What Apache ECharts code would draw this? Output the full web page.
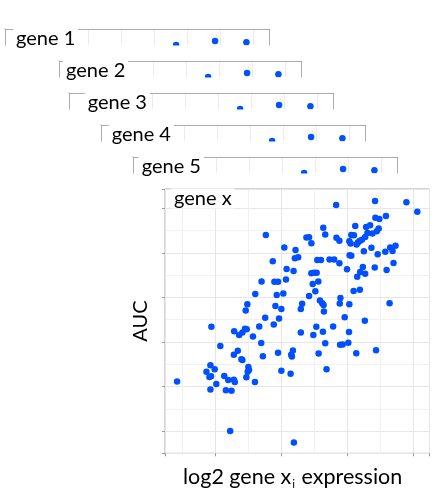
<!DOCTYPE html>
<html>
<head>
<meta charset="utf-8">
<script src="https://cdn.jsdelivr.net/npm/echarts@6/dist/echarts.min.js"></script>
<style>
html,body{margin:0;padding:0;background:#ffffff;}
#chart{width:436px;height:498px;}
</style>
</head>
<body>
<div id="chart"></div>
<script>
// ---- data ----
const geneNames = ['gene 1', 'gene 2', 'gene 3', 'gene 4', 'gene 5', 'gene x'];
const yAxisTitle = 'AUC';
const xAxisTitleParts = ['log2 gene x', 'i', ' expression'];

// log2 expression of gene x_i (arbitrary axis units)
const exprX = [
  68.3,77.8,56.5,81.1,71.6,68.4,69.6,35.2,52.6,53.2,
  62.3,65.6,66.8,69.4,68.8,67.5,66.0,65.3,64.3,63.1,
  62.7,61.1,61.9,60.5,60.9,63.6,56.6,57.5,47.5,48.3,
  49.0,40.8,44.2,37.3,44.0,45.0,41.5,43.6,33.9,37.8,
  38.9,41.3,32.0,38.5,40.5,29.6,29.1,38.1,39.9,35.0,
  39.2,64.9,67.2,69.1,71.4,72.9,73.6,74.5,60.6,61.1,
  50.8,51.9,54.5,55.9,57.5,59.8,64.6,63.8,65.3,62.9,
  68.2,71.8,73.9,49.0,49.8,50.6,51.1,49.4,50.2,48.3,
  61.8,63.7,57.8,51.6,52.3,52.7,57.6,60.5,46.2,45.8,
  52.8,59.1,65.2,72.7,
  18.7,25.6,27.1,28.1,28.9,29.4,33.2,31.3,37.6,33.8,
  21.4,26.7,25.5,27.8,28.1,34.3,38.9,43.4,42.9,43.1,
  45.8,49.6,50.5,52.5,53.2,55.6,60.4,57.7,58.5,60.2,
  51.2,62.6,68.6,53.6,18.4,17.2,19.7,18.1,18.6,22.6,
  23.8,25.5,25.8,20.2,18.4,23.1,24.8,29.9,30.1,29.7,
  29.3,31.9,39.9,42.7,8.3,24.4,43.7
];
// AUC (arbitrary axis units)
const aucY = [
  123.3,122.7,121.5,118.5,116.6,115.8,115.2,108.0,111.3,108.3,
  112.1,111.6,112.4,111.0,109.7,108.7,108.9,107.1,105.9,104.7,
  103.8,108.0,107.9,105.2,104.2,105.3,106.8,105.5,106.9,107.0,
  104.3,102.4,101.3,96.3,97.6,98.1,92.8,91.9,87.2,87.1,
  87.1,88.0,81.5,81.1,81.8,76.9,74.1,76.1,74.8,70.9,
  70.5,100.7,102.3,99.4,100.5,102.4,100.9,103.2,99.0,98.7,
  96.8,96.8,97.0,97.0,95.3,92.7,93.7,91.4,90.6,89.3,
  93.5,92.3,95.5,90.9,91.1,91.1,87.2,86.0,82.8,80.7,
  82.9,83.4,79.8,78.6,77.4,76.6,77.3,76.9,77.2,74.8,
  73.7,71.1,69.5,77.4,
  66.8,64.8,63.1,64.3,65.9,65.7,66.9,62.5,67.8,59.5,
  58.2,56.1,54.3,52.2,51.9,53.6,55.2,56.2,54.3,53.5,
  64.3,63.1,66.8,64.6,59.4,66.9,64.5,58.7,58.9,59.7,
  54.8,54.9,56.3,47.7,49.6,46.6,47.7,44.3,44.6,44.7,
  42.9,43.0,42.0,41.1,38.7,38.3,38.1,48.8,47.4,46.6,
  44.1,42.0,47.1,45.7,42.3,20.0,14.9
];

// axis extents (axis units)
const X_MIN = 4.64, X_MAX = 84.8;
const Y_MIN = 10, Y_MAX = 128.7;

// ---- layout / style ----
const FONT = 'Lato';
const DOT = '#0050ff';
const FRAME = '#ababab';
const GRID_MINOR = '#f1f1f1';
const GRID_MAJOR = '#e6e6e6';

const MAIN = { left: 165, top: 189, width: 264.5, height: 264.3 };
const PX_PER_X = MAIN.width / (X_MAX - X_MIN);
const PX_PER_Y = MAIN.height / (Y_MAX - Y_MIN);
const CARD_STEP = 32;
const CARD_FIRST = { left: 5, top: 29 };
const CARD_H = 16;
const CARD_CLIP_LEFT = [0, 22, 0, 0, 0];
const LABEL_LEFT = [16, 66, 87.7, 111.7, 141.7, 174];

const points = exprX.map((x, i) => [x, aucY[i]]);

const grids = [], xAxes = [], yAxes = [], series = [], titles = [], masks = [];

// main panel
grids.push({ left: MAIN.left, top: MAIN.top, width: MAIN.width, height: MAIN.height,
  show: true, borderColor: FRAME, borderWidth: 1, backgroundColor: '#fff', containLabel: false });
const hidden = { axisLabel: { show: false }, axisTick: { show: false } };
xAxes.push({ type: 'value', gridIndex: 0, min: X_MIN, max: X_MAX, splitNumber: 8,
  axisLine: { show: false, onZero: false }, ...hidden,
  splitLine: { show: true, lineStyle: { color: GRID_MINOR, width: 1 } } });
xAxes.push({ type: 'value', gridIndex: 0, min: X_MIN, max: X_MAX, splitNumber: 4, position: 'bottom',
  axisLine: { show: false, onZero: false }, axisLabel: { show: false },
  axisTick: { show: true, length: 3, lineStyle: { color: '#9a9a9a' } },
  splitLine: { show: true, lineStyle: { color: GRID_MAJOR, width: 1 } } });
yAxes.push({ type: 'value', gridIndex: 0, min: Y_MIN, max: Y_MAX, splitNumber: 12,
  axisLine: { show: false, onZero: false }, ...hidden,
  splitLine: { show: true, lineStyle: { color: GRID_MINOR, width: 1 } } });
yAxes.push({ type: 'value', gridIndex: 0, min: Y_MIN, max: Y_MAX, splitNumber: 6, position: 'left',
  axisLine: { show: false, onZero: false }, axisLabel: { show: false },
  axisTick: { show: true, length: 3, lineStyle: { color: '#9a9a9a' } },
  splitLine: { show: true, lineStyle: { color: GRID_MAJOR, width: 1 } } });
series.push({ type: 'scatter', xAxisIndex: 0, yAxisIndex: 0, data: points, symbolSize: 6.5,
  itemStyle: { color: DOT, opacity: 1 }, silent: true, clip: true, z: 5 });

// stacked strips (top strip of each gene panel)
for (let k = 0; k < 5; k++) {
  const clip = CARD_CLIP_LEFT[k];
  const left = CARD_FIRST.left + CARD_STEP * k + clip;
  const top = CARD_FIRST.top + CARD_STEP * k;
  const gi = grids.length;
  grids.push({ left: left, top: top, width: MAIN.width - clip, height: CARD_H, show: false, containLabel: false });
  const xi = xAxes.length;
  xAxes.push({ type: 'value', gridIndex: gi, min: X_MIN + clip / PX_PER_X, max: X_MAX, splitNumber: 8,
    position: 'top', axisLine: { show: true, onZero: false, lineStyle: { color: FRAME, width: 1 } }, ...hidden,
    splitLine: { show: true, lineStyle: { color: '#ececec', width: 1 } } });
  const yMin = Y_MAX - CARD_H / PX_PER_Y;
  const yi = yAxes.length;
  yAxes.push({ type: 'value', gridIndex: gi, min: yMin, max: Y_MAX, position: 'left',
    axisLine: { show: true, onZero: false, lineStyle: { color: FRAME, width: 1 } }, ...hidden,
    splitLine: { show: false } });
  yAxes.push({ type: 'value', gridIndex: gi, min: yMin, max: Y_MAX, position: 'right',
    axisLine: { show: true, onZero: false, lineStyle: { color: FRAME, width: 1 } }, ...hidden,
    splitLine: { show: false } });
  series.push({ type: 'scatter', xAxisIndex: xi, yAxisIndex: yi, data: points, symbolSize: 6.5,
    itemStyle: { color: DOT, opacity: 1 }, silent: true, clip: true, z: 5 });
  // white strip just below the card edge, so marks are cut at the strip boundary
  const maskLeft = LABEL_LEFT[k] + 75;
  masks.push({ type: 'rect', z: 100, silent: true,
    shape: { x: maskLeft, y: top + CARD_H + 0.5, width: CARD_FIRST.left + CARD_STEP * k + MAIN.width + 2 - maskLeft, height: 6 },
    style: { fill: '#ffffff' } });
}

// panel labels
geneNames.forEach((name, k) => {
  const top = (k < 5 ? CARD_FIRST.top + CARD_STEP * k : MAIN.top) + 1;
  titles.push({ text: name, left: LABEL_LEFT[k] - 3, top: top, padding: [0, 3, 0, 3],
    backgroundColor: '#ffffff', z: 8,
    textStyle: { fontFamily: FONT, fontSize: 20, fontWeight: 'normal', color: '#000', lineHeight: 17 } });
});

// x axis title with subscript
titles.push({
  text: '{a|' + xAxisTitleParts[0] + '}{s|' + xAxisTitleParts[1] + '}{a|' + xAxisTitleParts[2] + '}',
  left: 183, top: 464, padding: 0,
  textStyle: { fontWeight: 'normal', rich: {
    a: { fontFamily: FONT, fontSize: 21.5, fontWeight: 'normal', lineHeight: 26, color: '#000' },
    s: { fontFamily: FONT, fontSize: 11.5, fontWeight: 'normal', lineHeight: 16, verticalAlign: 'bottom', color: '#000', padding: [0, 1, 0, 1] }
  } }
});

const chart = echarts.init(document.getElementById('chart'), null, { renderer: 'canvas' });
chart.setOption({
  backgroundColor: '#ffffff',
  animation: false,
  title: titles,
  grid: grids,
  xAxis: xAxes,
  yAxis: yAxes,
  series: series,
  graphic: masks.concat([{
    type: 'text', x: 140.5, y: 321, rotation: Math.PI / 2, z: 100,
    style: { text: yAxisTitle, fontFamily: FONT, fontSize: 20, fill: '#000', align: 'center', verticalAlign: 'middle' }
  }])
});
</script>
</body>
</html>
